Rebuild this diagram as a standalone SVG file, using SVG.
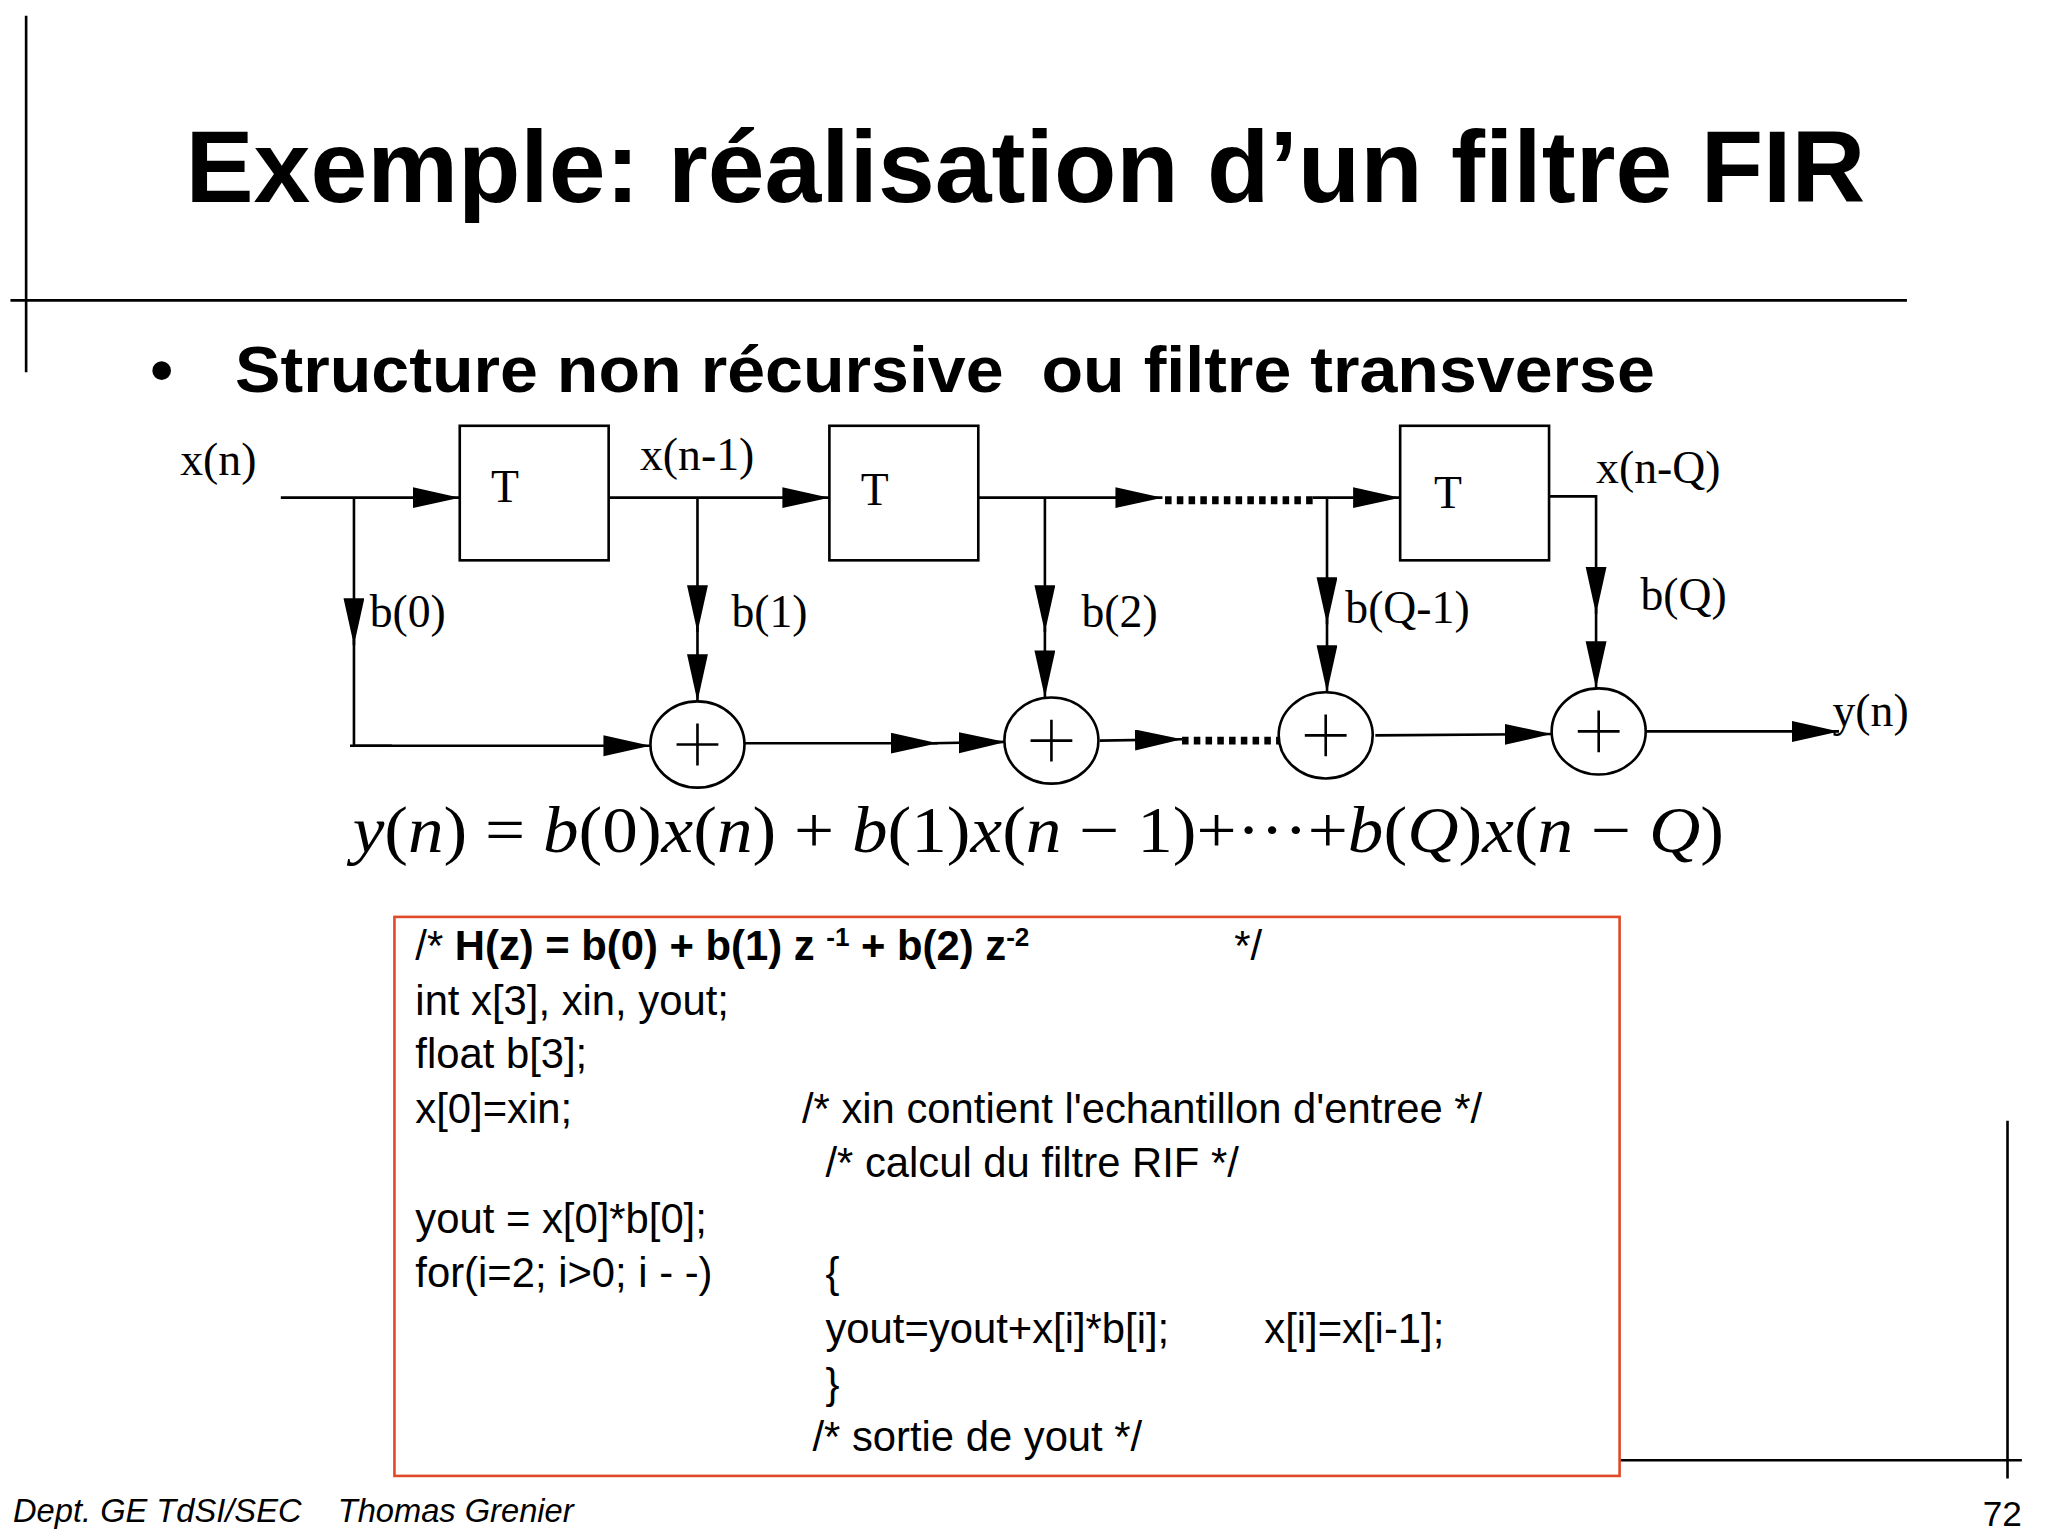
<svg xmlns="http://www.w3.org/2000/svg" width="2048" height="1536" viewBox="0 0 2048 1536">
<defs>
<marker id="ah" markerUnits="userSpaceOnUse" markerWidth="40" markerHeight="20" refX="36" refY="8" orient="auto"><path d="M0,0 L36,8 L0,16 z" fill="#000"/></marker>
<style>
.ln{stroke:#000;stroke-width:2;fill:none}
.a{stroke:#000;stroke-width:2;fill:none;marker-end:url(#ah)}
.dot{stroke:#000;stroke-width:6;stroke-dasharray:5,4;fill:none}
.box{stroke:#000;stroke-width:2;fill:#fff}
.tm{font-family:'Liberation Serif',serif;font-size:35px}
.cd{font-family:'Liberation Sans',Arial,sans-serif;font-size:32px}
</style>
</defs>
<rect width="2048" height="1536" fill="#fff"/>
<g transform="scale(1.30612)">
<g id="frame" class="ln">
<line x1="20" y1="12" x2="20" y2="285"/>
<line x1="8" y1="230" x2="1460" y2="230"/>
<line x1="1537" y1="858" x2="1537" y2="1132"/>
<line x1="1240" y1="1118" x2="1548" y2="1118"/>
</g>
<text id="title" x="142" y="155" textLength="1286" lengthAdjust="spacingAndGlyphs" font-family="'Liberation Sans',Arial,sans-serif" font-weight="bold" font-size="78">Exemple: réalisation d’un filtre FIR</text>
<text id="bullet" font-family="'Liberation Sans',Arial,sans-serif" font-weight="bold" font-size="50" y="300" xml:space="preserve"><tspan x="115">•</tspan><tspan x="180" textLength="1087" lengthAdjust="spacingAndGlyphs">Structure non récursive  ou filtre transverse</tspan></text>
<g id="connectors">
<line class="a" x1="215" y1="381" x2="352" y2="381"/>
<line class="a" x1="466" y1="381" x2="635" y2="381"/>
<line class="a" x1="749" y1="381" x2="890" y2="381"/>
<line class="dot" x1="892" y1="383" x2="1005" y2="383"/>
<line class="a" x1="1005" y1="381" x2="1072" y2="381"/>
<polyline class="ln" points="1186,380 1222,380 1222,440"/>
<line class="a" x1="271" y1="381" x2="271" y2="494"/>
<polyline class="ln" points="271,490 271,571 300,571"/>
<line class="a" x1="268" y1="571" x2="498" y2="571"/>
<line class="a" x1="534" y1="381" x2="534" y2="484"/>
<line class="a" x1="534" y1="480" x2="534" y2="537"/>
<line class="a" x1="800" y1="381" x2="800" y2="484"/>
<line class="a" x1="800" y1="480" x2="800" y2="534"/>
<line class="a" x1="1016" y1="381" x2="1016" y2="478"/>
<line class="a" x1="1016" y1="474" x2="1016" y2="530"/>
<line class="a" x1="1222" y1="436" x2="1222" y2="470"/>
<line class="a" x1="1222" y1="466" x2="1222" y2="527"/>
<line class="a" x1="570" y1="569" x2="718" y2="569"/>
<line class="a" x1="714" y1="569" x2="770" y2="568"/>
<line class="a" x1="842" y1="567" x2="905" y2="566"/>
<line class="dot" x1="905" y1="567" x2="980" y2="567"/>
<line class="a" x1="1053" y1="563" x2="1188" y2="562"/>
<line class="a" x1="1261" y1="560" x2="1408" y2="560"/>
</g>
<g id="T1"><rect class="box" x="352" y="326" width="114" height="103"/><text class="tm" x="376" y="384">T</text></g>
<g id="T2"><rect class="box" x="635" y="326" width="114" height="103"/><text class="tm" x="659" y="387">T</text></g>
<g id="T3"><rect class="box" x="1072" y="326" width="114" height="103"/><text class="tm" x="1098" y="389">T</text></g>
<g id="add1"><ellipse class="box" cx="534" cy="570" rx="36" ry="33"/><path class="ln" d="M518,570 H550 M534,554 V586"/></g>
<g id="add2"><ellipse class="box" cx="805" cy="567" rx="36" ry="33"/><path class="ln" d="M789,567 H821 M805,551 V583"/></g>
<g id="add3"><ellipse class="box" cx="1015" cy="563" rx="36" ry="33"/><path class="ln" d="M999,563 H1031 M1015,547 V579"/></g>
<g id="add4"><ellipse class="box" cx="1224" cy="560" rx="36" ry="33"/><path class="ln" d="M1208,560 H1240 M1224,544 V576"/></g>
<g id="labels" class="tm">
<text x="138" y="364">x(n)</text>
<text x="490" y="360">x(n-1)</text>
<text x="1222" y="370">x(n-Q)</text>
<text x="283" y="480">b(0)</text>
<text x="560" y="480">b(1)</text>
<text x="828" y="480">b(2)</text>
<text x="1030" y="477">b(Q-1)</text>
<text x="1256" y="467">b(Q)</text>
<text x="1403" y="556">y(n)</text>
</g>
<text id="equation" x="270" y="652" font-family="'Liberation Serif',serif" font-size="50" textLength="1050" lengthAdjust="spacingAndGlyphs"><tspan font-style="italic">y</tspan>(<tspan font-style="italic">n</tspan>) = <tspan font-style="italic">b</tspan>(0)<tspan font-style="italic">x</tspan>(<tspan font-style="italic">n</tspan>) + <tspan font-style="italic">b</tspan>(1)<tspan font-style="italic">x</tspan>(<tspan font-style="italic">n</tspan> − 1)+···+<tspan font-style="italic">b</tspan>(<tspan font-style="italic">Q</tspan>)<tspan font-style="italic">x</tspan>(<tspan font-style="italic">n</tspan> − <tspan font-style="italic">Q</tspan>)</text>
<g id="code">
<rect x="302" y="702" width="938" height="428" fill="none" stroke="#e04a28" stroke-width="2"/>
<text class="cd" x="318" y="735">/* <tspan font-weight="bold">H(z) = b(0) + b(1) z <tspan font-size="20" dy="-11">-1</tspan><tspan dy="11"> + b(2) z</tspan><tspan font-size="20" dy="-11">-2</tspan></tspan></text>
<text class="cd" x="945" y="735">*/</text>
<text class="cd" x="318" y="777">int x[3], xin, yout;</text>
<text class="cd" x="318" y="818">float b[3];</text>
<text class="cd" x="318" y="860">x[0]=xin;</text>
<text class="cd" x="614" y="860">/* xin contient l'echantillon d'entree */</text>
<text class="cd" x="632" y="901">/* calcul du filtre RIF */</text>
<text class="cd" x="318" y="944">yout = x[0]*b[0];</text>
<text class="cd" x="318" y="985">for(i=2; i&gt;0; i - -)</text>
<text class="cd" x="632" y="985">{</text>
<text class="cd" x="632" y="1028">yout=yout+x[i]*b[i];</text>
<text class="cd" x="968" y="1028">x[i]=x[i-1];</text>
<text class="cd" x="632" y="1070">}</text>
<text class="cd" x="622" y="1111">/* sortie de yout */</text>
</g>
<text id="footer" x="10" y="1165" font-family="'Liberation Sans',Arial,sans-serif" font-style="italic" font-size="25" xml:space="preserve">Dept. GE TdSI/SEC    Thomas Grenier</text>
<text id="page" x="1518" y="1168" font-family="'Liberation Sans',Arial,sans-serif" font-size="27">72</text>
</g>
</svg>
